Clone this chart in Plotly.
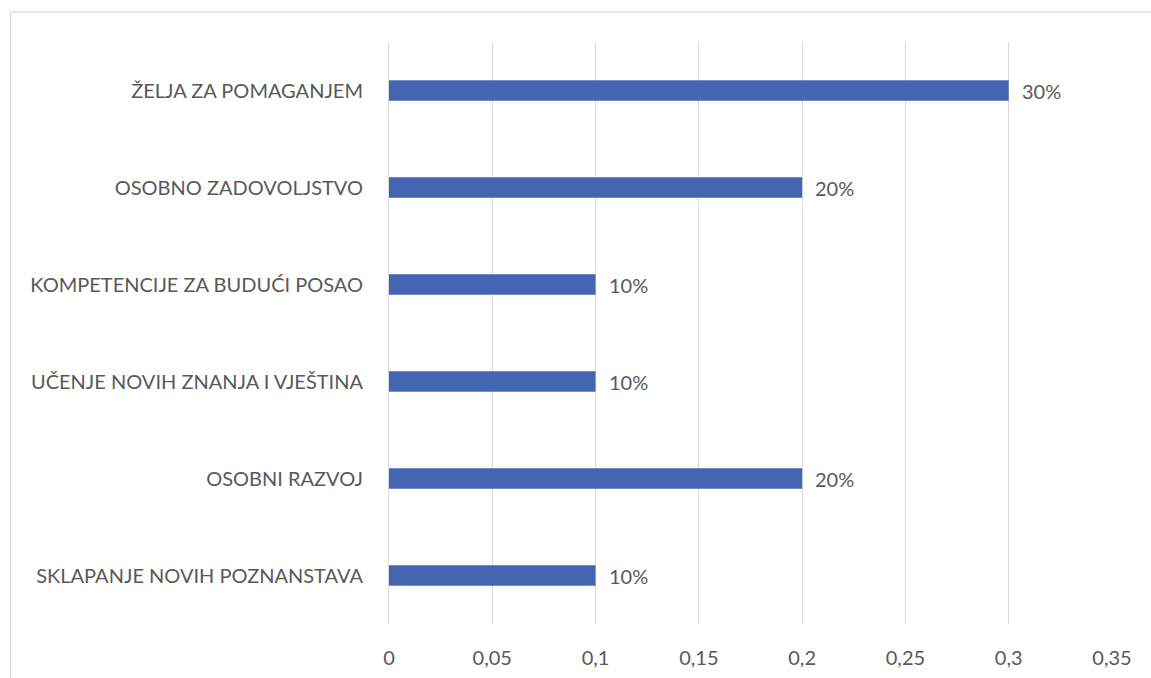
import plotly.graph_objects as go

categories = [
    "SKLAPANJE NOVIH POZNANSTAVA",
    "OSOBNI RAZVOJ",
    "UČENJE NOVIH ZNANJA I VJEŠTINA",
    "KOMPETENCIJE ZA BUDUĆI POSAO",
    "OSOBNO ZADOVOLJSTVO",
    "ŽELJA ZA POMAGANJEM",
]
values = [0.1, 0.2, 0.1, 0.1, 0.2, 0.3]
value_labels = ["10%", "20%", "10%", "10%", "20%", "30%"]

FONT = "Lato"
TXT = "#595959"
FS = 20

fig = go.Figure()
fig.add_trace(go.Bar(
    y=categories, x=values, orientation="h",
    marker=dict(color="#4466B2", line=dict(width=0)),
    width=0.21, hoverinfo="skip",
))
for c, v, t in zip(categories, values, value_labels):
    fig.add_annotation(x=v, y=c, text=t, showarrow=False, xanchor="left",
                       xshift=11, font=dict(family=FONT, size=FS, color=TXT))

# outer chart frame (top and left edges visible in the crop)
fig.add_shape(type="line", xref="paper", yref="paper",
              x0=-0.5235, x1=1.3, y0=1.0515, y1=1.0515,
              line=dict(color="#D9D9D9", width=1.3), layer="below")
fig.add_shape(type="line", xref="paper", yref="paper",
              x0=-0.5235, x1=-0.5235, y0=-0.4, y1=1.0515,
              line=dict(color="#D9D9D9", width=1.3), layer="below")

fig.update_layout(
    width=1151, height=678,
    margin=dict(l=389, r=39, t=42, b=54, autoexpand=False),
    plot_bgcolor="white", paper_bgcolor="white",
    separators=", ",
    showlegend=False,
    font=dict(family=FONT, size=FS, color=TXT),
    xaxis=dict(range=[0, 0.35], dtick=0.05, tick0=0, showgrid=True,
               gridcolor="#D9D9D9", gridwidth=1, zeroline=False,
               showline=False, ticks="", ticklabelstandoff=20,
               automargin=False,
               tickfont=dict(family=FONT, size=FS, color=TXT)),
    yaxis=dict(showgrid=False, zeroline=False, showline=True,
               linecolor="#D9D9D9", linewidth=1, ticks="",
               ticklabelstandoff=21, automargin=False,
               tickfont=dict(family=FONT, size=FS, color=TXT)),
)
fig.write_html(
    "out.html",
    config={"displayModeBar": False},
    post_script="document.body.style.margin='0';document.body.style.overflow='hidden';",
)
